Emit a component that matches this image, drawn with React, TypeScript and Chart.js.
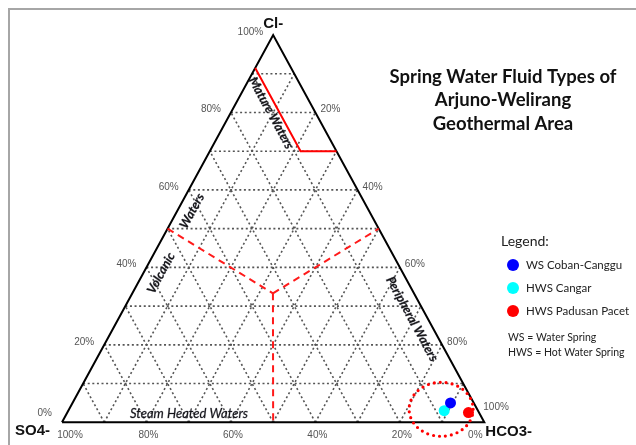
import React, { useEffect, useRef } from 'react';
import { Chart, registerables } from 'chart.js';
Chart.register(...registerables);

// Ternary composition (percent): Cl- (top), HCO3- (right), SO4- (left)
const sampleNames = ['WS Coban-Canggu', 'HWS Cangar', 'HWS Padusan Pacet'];
const sampleCl = [5, 3, 2.5];
const sampleHCO3 = [89.5, 89, 95];
const sampleSO4 = [5.5, 8, 2.5];
const sampleColors = ['#0000ff', '#00ffff', '#ff0000'];

const gridSteps = [10, 20, 30, 40, 50, 60, 70, 80, 90];
const tickValues = [0, 20, 40, 60, 80, 100];
const tickLabels = ['0%', '20%', '40%', '60%', '80%', '100%'];

// field boundaries as [Cl, HCO3] pairs
const matureBoundary = [[91.5, 0], [70, 21.5], [70, 30]];
const volcanicBoundary = [[50, 0], [33.3, 33.3]];
const peripheralBoundary = [[33.3, 33.3], [50, 50]];
const steamBoundary = [[33.3, 33.3], [0, 50]];

const titleLines = ['Spring Water Fluid Types of', 'Arjuno-Welirang', 'Geothermal Area'];
const noteLines = ['WS = Water Spring', 'HWS = Hot Water Spring'];

const toXY = (cl: number, hco3: number) => ({ x: hco3 / 100 + cl / 200, y: cl / 100 });

const overlay = {
  id: 'ternaryOverlay',
  beforeDraw(chart: any) {
    const ctx = chart.ctx;
    ctx.save();
    ctx.strokeStyle = '#a6a6a6';
    ctx.lineWidth = 2;
    ctx.strokeRect(9, 9, 800, 600);
    ctx.restore();
  },
  afterDraw(chart: any) {
    const ctx = chart.ctx;
    const xs = chart.scales.x;
    const ys = chart.scales.y;
    const P = (cl: number, hco3: number) => {
      const v = toXY(cl, hco3);
      return [xs.getPixelForValue(v.x), ys.getPixelForValue(v.y)];
    };
    ctx.save();
    // dotted circle around samples
    const c = P(3.36, 88.1);
    const rx = Math.abs(xs.getPixelForValue(0.0758) - xs.getPixelForValue(0));
    const ry = Math.abs(ys.getPixelForValue(0.0697) - ys.getPixelForValue(0));
    ctx.strokeStyle = '#ff0000';
    ctx.lineWidth = 3.2;
    ctx.lineCap = 'round';
    ctx.setLineDash([0, 6]);
    ctx.beginPath();
    ctx.ellipse(c[0], c[1], rx, ry, 0, 0, Math.PI * 2);
    ctx.stroke();
    ctx.setLineDash([]);

    // tick labels
    ctx.fillStyle = '#555';
    ctx.font = '10px "Liberation Sans", Arial, sans-serif';
    ctx.textBaseline = 'middle';
    tickValues.forEach((v, i) => {
      // left: Cl
      const l = P(v, 0);
      ctx.textAlign = 'right';
      ctx.fillText(tickLabels[i], l[0] - 10, l[1] - (v === 0 ? 9 : 3));
      // right: HCO3
      const r = P(100 - v, v);
      ctx.textAlign = 'left';
      if (v === 100) ctx.fillText(tickLabels[i], r[0] - 1, r[1] - 15);
      else if (v > 0) ctx.fillText(tickLabels[i], r[0] + 5, r[1] - 3);
      // bottom: SO4
      const b = P(0, 100 - v);
      ctx.textAlign = 'center';
      const dx = v === 100 ? 8 : v === 0 ? -9 : 2;
      ctx.fillText(tickLabels[i], b[0] + dx, b[1] + 13);
    });

    // vertex labels
    ctx.fillStyle = '#111';
    ctx.font = 'bold 15px "Liberation Sans", Arial, sans-serif';
    const top = P(100, 0);
    ctx.textAlign = 'center';
    ctx.fillText('Cl-', top[0], top[1] - 11);
    const bl = P(0, 0);
    ctx.textAlign = 'left';
    ctx.fillText('SO4-', bl[0] - 47, bl[1] + 9);
    const br = P(0, 100);
    ctx.fillText('HCO3-', br[0] + 1, br[1] + 10);

    // region labels
    const ang = Math.atan2(br[1] - top[1], br[0] - top[0]);
    const angL = Math.atan2(top[1] - bl[1], top[0] - bl[0]);
    const rot = (t: string, x: number, y: number, a: number) => {
      ctx.save();
      ctx.translate(x, y);
      ctx.rotate(a);
      ctx.textAlign = 'center';
      ctx.textBaseline = 'middle';
      ctx.fillText(t, 0, 0);
      ctx.strokeText(t, 0, 0);
      ctx.restore();
    };
    ctx.fillStyle = '#151515';
    ctx.strokeStyle = 'rgba(20,20,40,0.5)';
    ctx.lineWidth = 0.5;
    ctx.font = 'italic bold 12.5px Lato, sans-serif';
    rot('Mature Waters', 271, 113, ang);
    rot('Volcanic', 161, 273, angL);
    rot('Waters', 192, 211, angL);
    rot('Peripheral Waters', 412, 319, ang);
    ctx.font = 'italic 13px Lato, sans-serif';
    rot('Steam Heated Waters', 189, 414, 0);

    // title
    ctx.fillStyle = '#111';
    ctx.font = 'bold 18.5px Lato, sans-serif';
    ctx.textAlign = 'center';
    ctx.textBaseline = 'middle';
    titleLines.forEach((t, i) => ctx.fillText(t, 503, 77 + i * 23.5));

    // legend
    ctx.textAlign = 'left';
    ctx.fillStyle = '#222';
    ctx.font = '14px Lato, sans-serif';
    ctx.fillText('Legend:', 501, 241);
    ctx.font = '11.5px Lato, sans-serif';
    sampleNames.forEach((n, i) => {
      const y = 265 + i * 23;
      ctx.fillStyle = sampleColors[i];
      ctx.beginPath();
      ctx.arc(513, y, 6, 0, Math.PI * 2);
      ctx.fill();
      ctx.fillStyle = '#222';
      ctx.fillText(n, 526, y);
    });
    ctx.font = '10.5px Lato, sans-serif';
    noteLines.forEach((t, i) => ctx.fillText(t, 508, 338 + i * 15));
    ctx.restore();
  },
};

export default function App() {
  const ref = useRef<HTMLCanvasElement>(null);
  useEffect(() => {
    if (!ref.current) return;
    const gridColor = '#555';
    const lineDs = (pts: number[][], color: string, width: number, dash: number[], order: number) => ({
      type: 'scatter' as const,
      data: pts.map((p) => toXY(p[0], p[1])),
      showLine: true,
      borderColor: color,
      borderWidth: width,
      borderDash: dash,
      pointRadius: 0,
      fill: false,
      clip: false as any,
      order,
    });
    const datasets: any[] = [];
    gridSteps.forEach((s) => {
      datasets.push(lineDs([[s, 0], [s, 100 - s]], gridColor, 1.6, [2, 2.6], 4)); // const Cl
      datasets.push(lineDs([[0, s], [100 - s, s]], gridColor, 1.6, [2, 2.6], 4)); // const HCO3
      datasets.push(lineDs([[0, 100 - s], [100 - s, 0]], gridColor, 1.6, [2, 2.6], 4)); // const SO4
    });
    datasets.push(lineDs([[0, 0], [0, 100], [100, 0], [0, 0]], '#000', 2, [], 3));
    datasets.push(lineDs(matureBoundary, '#ff0000', 2, [], 2));
    datasets.push(lineDs(volcanicBoundary, '#ff1a1a', 2, [7, 5], 2));
    datasets.push(lineDs(peripheralBoundary, '#ff1a1a', 2, [7, 5], 2));
    datasets.push(lineDs(steamBoundary, '#ff1a1a', 2, [7, 5], 2));
    sampleNames.forEach((n, i) => {
      datasets.push({
        type: 'scatter',
        label: n,
        data: [toXY(sampleCl[i], sampleHCO3[i])],
        backgroundColor: sampleColors[i],
        borderWidth: 0,
        pointRadius: 5.5,
        clip: false,
        order: 0,
      });
    });
    const chart = new Chart(ref.current, {
      type: 'scatter',
      data: { datasets },
      options: {
        responsive: false,
        animation: false,
        devicePixelRatio: 1,
        layout: { padding: { left: 62, right: 636 - 484.3, top: 35, bottom: 445 - 422.3 } },
        scales: {
          x: { type: 'linear', min: 0, max: 1, display: false },
          y: { type: 'linear', min: 0, max: 1, display: false },
        },
        plugins: { legend: { display: false }, tooltip: { enabled: false } },
      },
      plugins: [overlay],
    } as any);
    return () => chart.destroy();
  }, []);
  return (
    <div style={{ position: 'absolute', left: 0, top: 0, width: 636, height: 445, background: '#fff' }}>
      <canvas ref={ref} width={636} height={445} style={{ display: 'block' }} />
    </div>
  );
}
